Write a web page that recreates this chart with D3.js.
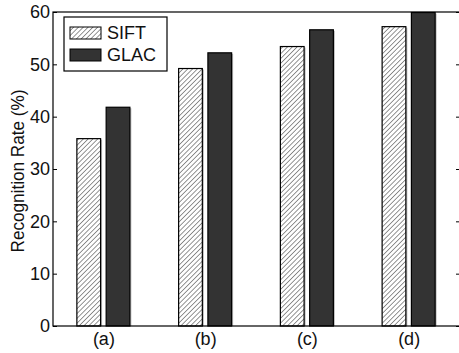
<!DOCTYPE html>
<html>
<head>
<meta charset="utf-8">
<script src="https://cdn.jsdelivr.net/npm/d3@7"></script>
<style>
  body { margin: 0; background: #fff; overflow: hidden; }
  text { font-family: "Liberation Sans", Arial, sans-serif; }
</style>
</head>
<body>
<svg width="459" height="353"></svg>
<script>
let categories = ['(a)', '(b)', '(c)', '(d)'];
let series = ['SIFT', 'GLAC'];
let siftValues = [35.8, 49.2, 53.4, 57.2];
let glacValues = [41.8, 52.2, 56.6, 59.9];
let yTicks = [0, 10, 20, 30, 40, 50, 60];

let margin = {top: 12, right: -1, bottom: 27, left: 53},
    width = 459 - margin.left - margin.right,
    height = 353 - margin.top - margin.bottom;

var svg = d3.select('svg');

let defs = svg.append('defs');
let hatch = defs.append('pattern')
    .attr('id', 'hatch')
    .attr('patternUnits', 'userSpaceOnUse')
    .attr('width', 3.4)
    .attr('height', 3.4)
    .attr('patternTransform', 'rotate(45)');
hatch.append('rect').attr('width', 3.4).attr('height', 3.4).attr('fill', 'white');
hatch.append('line')
    .attr('x1', 0).attr('y1', 0).attr('x2', 0).attr('y2', 3.4)
    .attr('stroke', '#111').attr('stroke-width', 0.9);

let g = svg.append('g')
    .attr('transform', `translate(${margin.left}, ${margin.top})`);

let x = d3.scaleBand().domain(categories).range([0, width]).paddingInner(0).paddingOuter(0);
let xSub = d3.scaleBand().domain(series).range([-27, 26]).paddingInner(0.19);
let y = d3.scaleLinear().domain([0, 60]).range([height, 0]);

let data = categories.map((c, i) => ({cat: c, vals: [siftValues[i], glacValues[i]]}));

let groups = g.selectAll('.grp')
    .data(data)
    .enter()
    .append('g')
    .attr('transform', d => `translate(${x(d.cat) + x.bandwidth() / 2}, 0)`);

let barData = d => d.vals.map((v, i) => ({s: series[i], v: v}));

// faint shadow on the right side of the bars
groups.selectAll('.shadow')
    .data(barData)
    .enter()
    .append('rect')
    .attr('class', 'shadow')
    .attr('x', d => xSub(d.s) + 1.5)
    .attr('y', d => y(d.v) + 1)
    .attr('width', xSub.bandwidth())
    .attr('height', d => height - y(d.v) - 1)
    .attr('fill', '#bbb');

groups.selectAll('.bar')
    .data(barData)
    .enter()
    .append('rect')
    .attr('class', 'bar')
    .attr('x', d => xSub(d.s))
    .attr('y', d => y(d.v))
    .attr('width', xSub.bandwidth())
    .attr('height', d => height - y(d.v))
    .attr('fill', d => d.s === 'SIFT' ? 'url(#hatch)' : '#333')
    .attr('stroke', '#000')
    .attr('stroke-width', 1.2);

// frame
g.append('rect')
    .attr('x', 0).attr('y', 0)
    .attr('width', width).attr('height', height)
    .attr('fill', 'none')
    .attr('stroke', '#000')
    .attr('stroke-width', 1.2);

// left axis, ticks inward
let yAxis = g.append('g')
    .call(d3.axisLeft(y).tickValues(yTicks).tickSize(-4).tickPadding(3).tickFormat(d3.format('d')));
yAxis.select('.domain').remove();
yAxis.selectAll('text').attr('font-size', 18).attr('fill', '#111');

let yAxisR = g.append('g')
    .attr('transform', `translate(${width}, 0)`)
    .call(d3.axisRight(y).tickValues(yTicks).tickSize(-4).tickFormat(''));
yAxisR.select('.domain').remove();

let xAxis = g.append('g')
    .attr('transform', `translate(0, ${height})`)
    .call(d3.axisBottom(x).tickSize(0).tickPadding(6));
xAxis.select('.domain').remove();
xAxis.selectAll('text').attr('font-size', 18).attr('fill', '#111');

svg.append('text')
    .attr('transform', `translate(24, ${margin.top + height / 2 + 2}) rotate(-90)`)
    .attr('text-anchor', 'middle')
    .attr('font-size', 18)
    .attr('textLength', 163)
    .attr('lengthAdjust', 'spacingAndGlyphs')
    .attr('fill', '#111')
    .text('Recognition Rate (%)');

// legend
let legend = svg.append('g').attr('transform', 'translate(64, 17)');
legend.append('rect')
    .attr('width', 103).attr('height', 54)
    .attr('fill', 'white').attr('stroke', '#000').attr('stroke-width', 1.2);
series.forEach((s, i) => {
    legend.append('rect')
        .attr('x', 6).attr('y', 10 + i * 22)
        .attr('width', 31).attr('height', 12)
        .attr('fill', s === 'SIFT' ? 'url(#hatch)' : '#333')
        .attr('stroke', '#000').attr('stroke-width', 1);
    legend.append('text')
        .attr('x', 43).attr('y', 22 + i * 22)
        .attr('font-size', 18)
        .attr('fill', '#111')
        .text(s);
});
</script>
</body>
</html>
